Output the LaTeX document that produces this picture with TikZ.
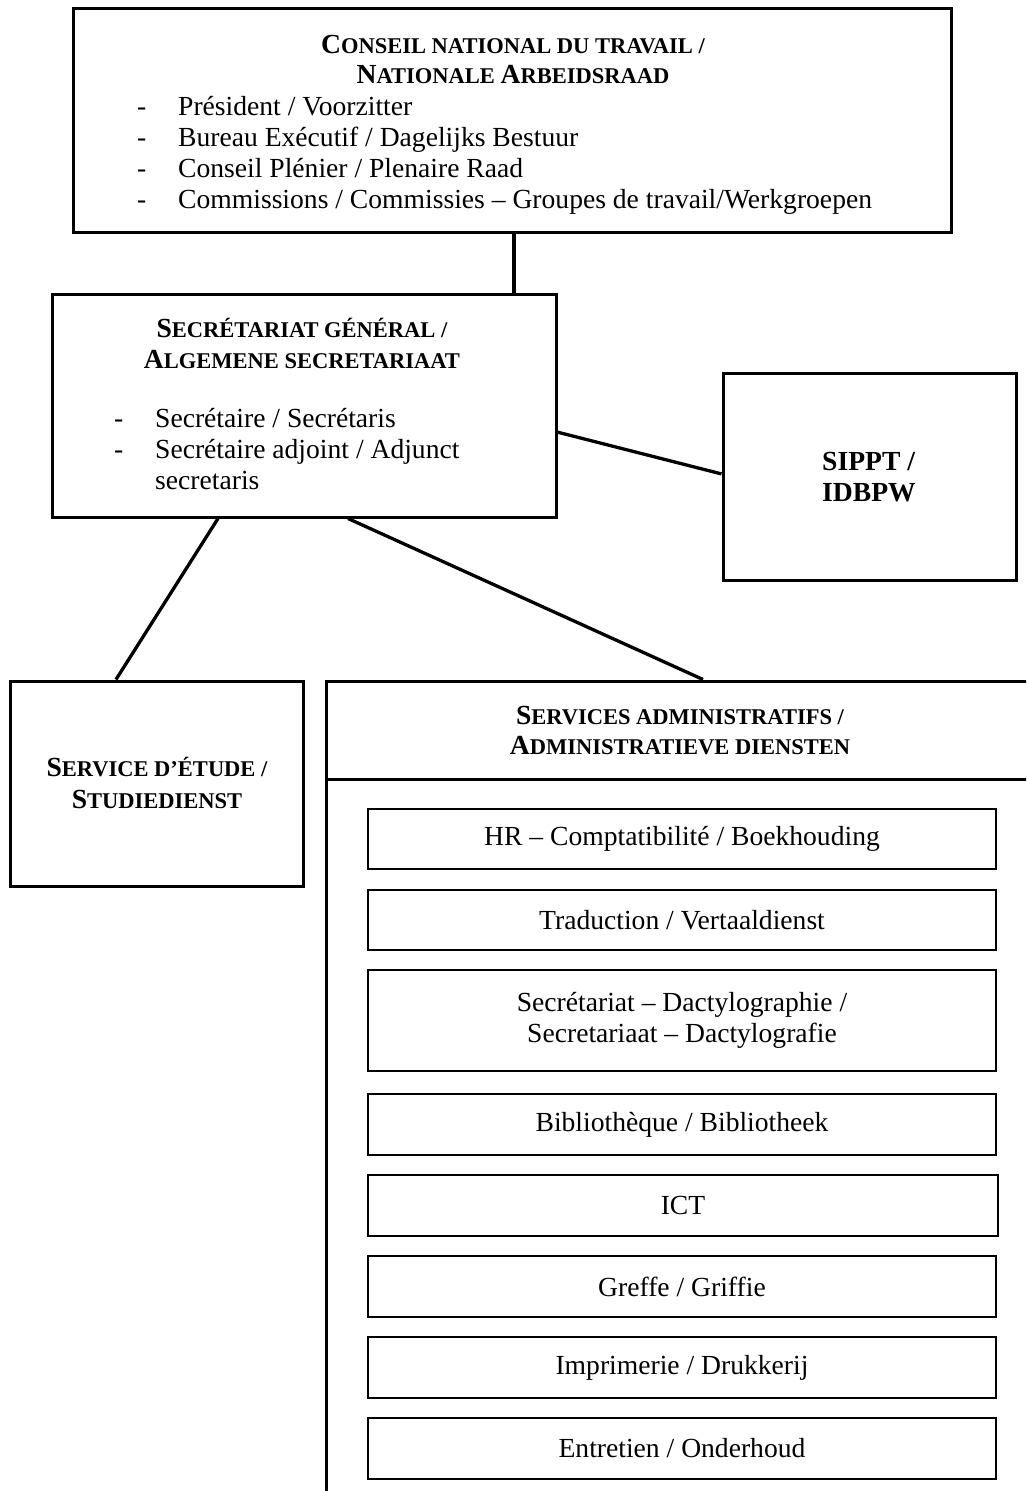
\documentclass[tikz,border=0pt]{standalone}
\usepackage{fontspec}
\setmainfont{Liberation Serif}
\usetikzlibrary{positioning}

\newcommand{\bodyfont}{\fontsize{27.6}{31}\selectfont}
\newcommand{\headfont}{\bfseries\fontsize{22.5}{31}\selectfont}
\newcommand{\capl}[1]{{\fontsize{27.6}{31}\selectfont #1}}

\tikzset{
  outerbox/.style={draw, line width=3pt, inner sep=0pt},
  innerbox/.style={draw, line width=1.6pt, minimum width=628pt, minimum height=61pt,
    inner sep=0pt, font=\bodyfont, align=center},
  heading/.style={anchor=base, font=\headfont, inner sep=0pt},
  items/.style={anchor=base west, font=\bodyfont, inner sep=0pt},
  link/.style={line width=3.3pt},
}

\begin{document}
\begin{tikzpicture}[x=1pt,y=-1pt]
\useasboundingbox (0,0) rectangle (1026,1491);
\clip (0,0) rectangle (1026,1491);

% conseil
\node[outerbox, minimum width=878pt, minimum height=224pt] (cnt) at (512,120) {};
\node[heading] (cnth1) at (513,53) {\capl{C}ONSEIL NATIONAL DU TRAVAIL /};
\node[heading] (cnth2) at (513,83) {\capl{N}ATIONALE \capl{A}RBEIDSRAAD};
\node[items] (cntlist) at (137,115) {\begin{tabular}[t]{@{}p{41pt}@{}l@{}}
  - & Président / Voorzitter\\
  - & Bureau Exécutif / Dagelijks Bestuur\\
  - & Conseil Plénier / Plenaire Raad\\
  - & Commissions / Commissies -- Groupes de travail/Werkgroepen
\end{tabular}};

% secretariat general
\node[outerbox, minimum width=504pt, minimum height=223pt] (sg) at (304,405.5) {};
\node[heading] (sgh1) at (302,337) {\capl{S}ECRÉTARIAT GÉNÉRAL /};
\node[heading] (sgh2) at (302,368) {\capl{A}LGEMENE SECRETARIAAT};
\node[items] (sglist) at (114,427) {\begin{tabular}[t]{@{}p{41pt}@{}l@{}}
  - & Secrétaire / Secrétaris\\
  - & Secrétaire adjoint / Adjunct\\
    & secretaris
\end{tabular}};

% sippt
\node[outerbox, minimum width=293pt, minimum height=207pt] (sippt) at (869.5,476.5) {};
\node[items, font=\bodyfont\bfseries, align=left] (sippttxt) at (822,501) {SIPPT /\\IDBPW};

% service d'etude
\node[outerbox, minimum width=293pt, minimum height=205pt] (etude) at (156.5,783.5) {};
\node[heading] (etudeh1) at (157,776) {\capl{S}ERVICE D’ÉTUDE /};
\node[heading] (etudeh2) at (157,808) {\capl{S}TUDIEDIENST};

% services administratifs
\node[outerbox, minimum width=740pt, minimum height=860pt] (admin) at (696,1111) {};
\draw[link] ([yshift=-100pt]admin.north west) -- ([yshift=-100pt]admin.north east);
\node[heading] (adminh1) at (680,724) {\capl{S}ERVICES ADMINISTRATIFS /};
\node[heading] (adminh2) at (680,754) {\capl{A}DMINISTRATIEVE DIENSTEN};

\node[innerbox, minimum height=60pt] (hr) at (682,839) {HR -- Comptatibilité / Boekhouding};
\node[innerbox, minimum height=60pt] (trad) at (682,920) {Traduction / Vertaaldienst};
\node[innerbox, minimum height=101pt] (secr) at (682,1020.5) {Secrétariat -- Dactylographie /\\Secretariaat -- Dactylografie};
\node[innerbox] (bib) at (682,1124.5) {Bibliothèque / Bibliotheek};
\node[innerbox, minimum width=630pt] (ict) at (683,1205.5) {ICT};
\node[innerbox] (greffe) at (682,1286.5) {Greffe / Griffie};
\node[innerbox] (impr) at (682,1367.5) {Imprimerie / Drukkerij};
\node[innerbox] (entr) at (682,1448.5) {Entretien / Onderhoud};

% liaisons
\draw[link] ([xshift=2pt]cnt.south) -- ([xshift=2pt]cnt.south |- sg.north);
\draw[link] (sg.-6.5) -- (sippt.179);
\draw[link] ([xshift=-86pt]sg.south) -- ([xshift=-40.5pt]etude.north);
\draw[link] ([xshift=44pt]sg.south) -- ([xshift=7pt]admin.north);
\end{tikzpicture}
\end{document}
